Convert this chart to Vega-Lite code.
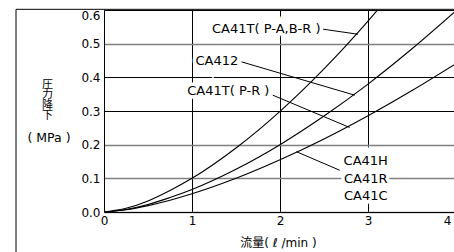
{
  "$schema": "https://vega.github.io/schema/vega-lite/v6.json",
  "width": 352,
  "height": 202,
  "autosize": {"type": "none"},
  "padding": {"left": 104, "top": 10, "right": 0, "bottom": 40},
  "background": "white",
  "config": {"view": {"stroke": null}, "font": "DejaVu Sans"},
  "datasets": {
    "frame": [{"q": -1, "q2": 4.6, "p": 0.602, "p2": -0.3}],
    "ytitle": [{"t": "圧\n力\n降\n下", "q": -0.642, "p": 0.3955}],
    "yunit": [{"t": "( MPa )", "q": -0.625, "p": 0.22}],
    "curves": [
      {"s": "A", "q": 0, "p": 0}, {"s": "A", "q": 0.25, "p": 0.011}, {"s": "A", "q": 0.5, "p": 0.033}, {"s": "A", "q": 0.75, "p": 0.064},
      {"s": "A", "q": 1, "p": 0.1}, {"s": "A", "q": 1.5, "p": 0.19}, {"s": "A", "q": 2, "p": 0.299}, {"s": "A", "q": 2.5, "p": 0.425},
      {"s": "A", "q": 3, "p": 0.567}, {"s": "A", "q": 3.5, "p": 0.724},
      {"s": "B", "q": 0, "p": 0}, {"s": "B", "q": 0.25, "p": 0.0075}, {"s": "B", "q": 0.5, "p": 0.022}, {"s": "B", "q": 0.75, "p": 0.043},
      {"s": "B", "q": 1, "p": 0.067}, {"s": "B", "q": 1.5, "p": 0.127}, {"s": "B", "q": 2, "p": 0.2}, {"s": "B", "q": 2.5, "p": 0.285},
      {"s": "B", "q": 3, "p": 0.38}, {"s": "B", "q": 3.5, "p": 0.485}, {"s": "B", "q": 4, "p": 0.598},
      {"s": "C", "q": 0, "p": 0}, {"s": "C", "q": 0.25, "p": 0.0067}, {"s": "C", "q": 0.5, "p": 0.019}, {"s": "C", "q": 0.75, "p": 0.035},
      {"s": "C", "q": 1, "p": 0.054}, {"s": "C", "q": 1.5, "p": 0.1}, {"s": "C", "q": 2, "p": 0.155}, {"s": "C", "q": 2.5, "p": 0.217},
      {"s": "C", "q": 3, "p": 0.286}, {"s": "C", "q": 3.5, "p": 0.361}, {"s": "C", "q": 4, "p": 0.441}
    ],
    "leaders": [
      {"q": 2.49, "p": 0.543, "q2": 2.887, "p2": 0.528},
      {"q": 1.563, "p": 0.446, "q2": 2.849, "p2": 0.347},
      {"q": 1.918, "p": 0.347, "q2": 2.792, "p2": 0.251},
      {"q": 2.679, "p": 0.124, "q2": 2.187, "p2": 0.179}
    ],
    "labels": [
      {"t": "CA41T( P-A,B-R )", "q": 1.844, "p": 0.544},
      {"t": "CA412", "q": 1.283, "p": 0.4485},
      {"t": "CA41T( P-R )", "q": 1.413, "p": 0.358},
      {"t": "CA41H", "q": 2.974, "p": 0.151},
      {"t": "CA41R", "q": 2.974, "p": 0.0994},
      {"t": "CA41C", "q": 2.974, "p": 0.0476}
    ]
  },
  "encoding": {
    "x": {"field": "q", "type": "quantitative", "scale": {"domain": [0, 4], "nice": false, "zero": false},
      "axis": {
        "values": [0, 1, 2, 3, 4],
        "grid": true, "gridColor": "black", "gridWidth": 1,
        "ticks": false, "domainColor": "black", "domainWidth": 1,
        "labelFont": "DejaVu Sans", "labelFontSize": 12, "labelColor": "black", "labelPadding": 3,
        "labelFlush": false,
        "labelOffset": {"condition": {"test": "datum.value == 4", "value": -9}, "value": 0},
        "title": "流量( ℓ /min )",
        "titleFont": "DejaVu Sans, Noto Sans CJK JP", "titleFontSize": 12, "titleFontWeight": "normal", "titleColor": "black",
        "titleX": 174, "titleY": 30, "titleBaseline": "middle", "titleAlign": "center"
      }},
    "y": {"field": "p", "type": "quantitative", "scale": {"domain": [0, 0.6], "nice": false, "zero": false},
      "axis": {
        "values": [0, 0.1, 0.2, 0.3, 0.4, 0.5, 0.6], "format": ".1f",
        "grid": true,
        "gridColor": {"condition": {"test": "(datum.value > 0.25 && datum.value < 0.45) || datum.value > 0.55", "value": "black"}, "value": "#808080"},
        "gridWidth": {"condition": {"test": "(datum.value > 0.25 && datum.value < 0.45) || datum.value > 0.55", "value": 1}, "value": 1.4},
        "ticks": false, "domainColor": "black", "domainWidth": 1,
        "labelFont": "DejaVu Sans", "labelFontSize": 12, "labelColor": "black", "labelPadding": 4,
        "labelFlush": false,
        "labelBaseline": {"condition": {"test": "datum.value > 0.55", "value": "top"}, "value": "middle"},
        "title": null
      }}
  },
  "layer": [
    {
      "data": {"name": "frame"},
      "mark": {"type": "rect", "fill": "transparent", "stroke": "black", "strokeWidth": 1, "clip": false},
      "encoding": {"x2": {"field": "q2"}, "y2": {"field": "p2"}}
    },
    {
      "data": {"name": "ytitle"},
      "mark": {"type": "text", "font": "Noto Sans CJK JP", "fontSize": 11, "lineHeight": 10.4, "lineBreak": "\n", "align": "center", "baseline": "top", "color": "black", "clip": false},
      "encoding": {"text": {"field": "t"}}
    },
    {
      "data": {"name": "yunit"},
      "mark": {"type": "text", "font": "DejaVu Sans", "fontSize": 12.5, "align": "center", "baseline": "middle", "color": "black", "clip": false},
      "encoding": {"text": {"field": "t"}}
    },
    {
      "data": {"name": "labels"},
      "mark": {"type": "text", "font": "DejaVu Sans", "fontSize": 13, "align": "center", "baseline": "middle", "fill": "white", "stroke": "white", "strokeWidth": 7, "clip": false},
      "encoding": {"text": {"field": "t"}}
    },
    {
      "data": {"name": "curves"},
      "mark": {"type": "line", "interpolate": "monotone", "color": "black", "strokeWidth": 1.1, "clip": true},
      "encoding": {"detail": {"field": "s"}}
    },
    {
      "data": {"name": "leaders"},
      "mark": {"type": "rule", "color": "black", "strokeWidth": 1},
      "encoding": {"x2": {"field": "q2"}, "y2": {"field": "p2"}}
    },
    {
      "data": {"name": "labels"},
      "mark": {"type": "text", "font": "DejaVu Sans", "fontSize": 13, "align": "center", "baseline": "middle", "fill": "black", "clip": false},
      "encoding": {"text": {"field": "t"}}
    }
  ]
}
